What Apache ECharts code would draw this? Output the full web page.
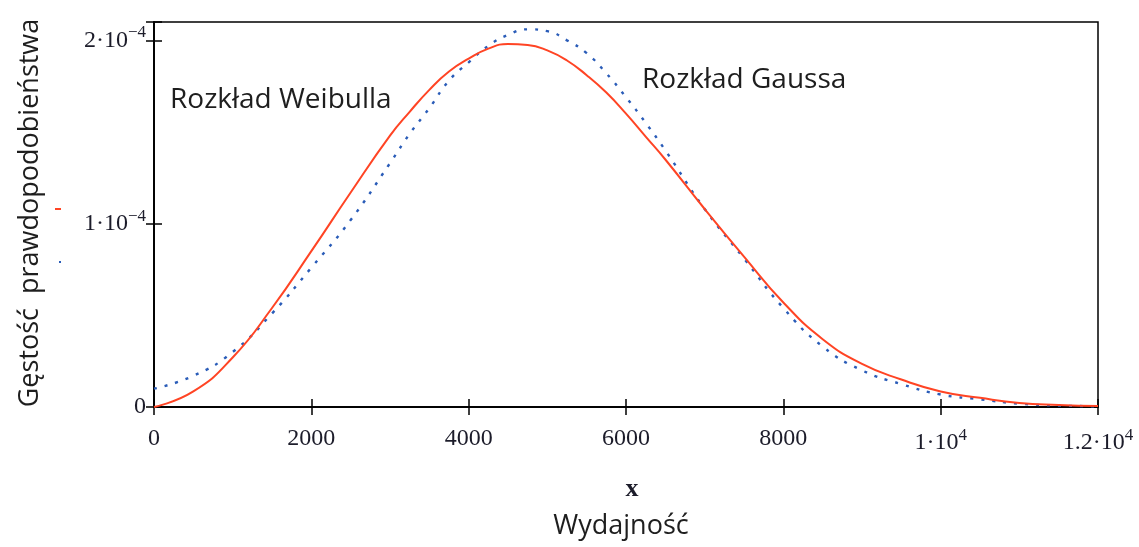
<!DOCTYPE html>
<html>
<head>
<meta charset="utf-8">
<script src="https://cdn.jsdelivr.net/npm/echarts@6/dist/echarts.min.js"></script>
<style>
  html, body { margin: 0; padding: 0; background: #fff; }
  #chart { width: 1139px; height: 547px; }
</style>
</head>
<body>
<div id="chart"></div>
<script>
// x positions (Wydajność), denser around the peaks
var xValues = [0, 500, 1000, 1500, 2000, 2500, 3000, 3250, 3500, 3750, 4000, 4250, 4500, 4750,
  5000, 5250, 5500, 5750, 6000, 6250, 6500, 7000, 7500, 8000, 8500, 9000, 9500, 10000,
  10500, 11000, 11500, 12000];

// Rozkład Weibulla (red, solid)
var weibull = [0, 0.085e-4, 0.27e-4, 0.54e-4, 0.85e-4, 1.17e-4, 1.48e-4, 1.61e-4, 1.73e-4,
  1.83e-4, 1.90e-4, 1.955e-4, 1.98e-4, 1.975e-4, 1.945e-4, 1.89e-4, 1.81e-4, 1.715e-4,
  1.60e-4, 1.475e-4, 1.35e-4, 1.08e-4, 0.82e-4, 0.57e-4, 0.37e-4, 0.235e-4, 0.15e-4,
  0.085e-4, 0.05e-4, 0.022e-4, 0.011e-4, 0.005e-4];

// Rozkład Gaussa (blue, dotted)
var gauss = [0.10e-4, 0.17e-4, 0.30e-4, 0.51e-4, 0.76e-4, 1.02e-4, 1.33e-4, 1.49e-4, 1.63e-4,
  1.78e-4, 1.88e-4, 1.97e-4, 2.03e-4, 2.06e-4, 2.05e-4, 2.00e-4, 1.93e-4, 1.82e-4, 1.69e-4,
  1.55e-4, 1.40e-4, 1.08e-4, 0.81e-4, 0.54e-4, 0.33e-4, 0.20e-4, 0.125e-4, 0.068e-4,
  0.042e-4, 0.018e-4, 0.008e-4, 0.004e-4];

var serif = '"Liberation Serif", "DejaVu Serif", serif';
var sans = '"Open Sans", "Noto Sans", sans-serif';
var labelColor = '#1c1c2a';

function yLabel(v) {
  if (v === 0) return '0';
  var m = Math.round(v / 1e-5) / 10;
  if (Math.abs(m - Math.round(m)) > 1e-6) return '';
  return '{b|' + m + '·10}{s|−4}';
}

function xLabel(v) {
  if (v < 10000) return String(v);
  return '{b|' + (v / 1e4) + '·10}{s|4}';
}

var richLabel = {
  b: { fontFamily: serif, fontSize: 24, color: labelColor, lineHeight: 32 },
  s: { fontFamily: serif, fontSize: 17, color: labelColor, verticalAlign: 'top', lineHeight: 32 }
};

function pairs(ys) {
  return xValues.map(function (x, i) { return [x, ys[i]]; });
}

var myChart = echarts.init(document.getElementById('chart'));
var option = {
  backgroundColor: '#fff',
  animation: false,
  grid: {
    left: 154, right: 41, top: 22, bottom: 140,
    show: true, borderColor: '#000', borderWidth: 1.5
  },
  xAxis: [
    {
      type: 'value', min: 0, max: 12000, interval: 2000,
      axisLine: { lineStyle: { color: '#000', width: 1.5 } },
      axisTick: { inside: true, length: 8, lineStyle: { color: '#000', width: 1.5 } },
      splitLine: { show: false },
      axisLabel: {
        margin: 20, formatter: xLabel, rich: richLabel,
        fontFamily: serif, fontSize: 24, color: labelColor
      }
    },
    {
      type: 'value', position: 'top', min: 0, max: 12000, interval: 2000,
      axisLine: { lineStyle: { color: '#000', width: 1.5 } },
      axisTick: { inside: true, length: 8, lineStyle: { color: '#000', width: 1.5 } },
      splitLine: { show: false },
      axisLabel: { show: false }
    }
  ],
  yAxis: [
    {
      type: 'value', min: 0, max: 2.1e-4, interval: 1e-4,
      axisLine: { show: true, lineStyle: { color: '#000', width: 1.5 } },
      axisTick: { show: true, inside: true, length: 8, lineStyle: { color: '#000', width: 1.5 } },
      splitLine: { show: false },
      axisLabel: {
        margin: 8, formatter: yLabel, rich: richLabel,
        fontFamily: serif, fontSize: 24, color: labelColor
      }
    },
    {
      type: 'value', position: 'right', min: 0, max: 2.1e-4, interval: 1e-4,
      axisLine: { show: true, lineStyle: { color: '#000', width: 1.5 } },
      axisTick: { show: true, inside: true, length: 8, lineStyle: { color: '#000', width: 1.5 } },
      splitLine: { show: false },
      axisLabel: { show: false }
    }
  ],
  series: [
    {
      name: 'Rozkład Weibulla',
      type: 'line',
      smooth: true,
      showSymbol: false,
      data: pairs(weibull),
      lineStyle: { color: '#ff4424', width: 2 },
      z: 3
    },
    {
      name: 'Rozkład Gaussa',
      type: 'line',
      smooth: true,
      showSymbol: false,
      data: pairs(gauss),
      lineStyle: { color: '#2a5cb8', width: 2.4, type: [3, 8] },
      z: 2
    }
  ],
  graphic: [
    {
      type: 'text', left: 170, top: 86,
      style: { text: 'Rozkład Weibulla', font: '28px ' + sans, fill: '#1e1e1e' }
    },
    {
      type: 'text', left: 642, top: 66,
      style: { text: 'Rozkład Gaussa', font: '28px ' + sans, fill: '#1e1e1e' }
    },
    {
      type: 'text', x: 632, y: 489,
      style: { text: 'x', font: 'bold 26px ' + serif, fill: labelColor, align: 'center', verticalAlign: 'middle' }
    },
    {
      type: 'text', x: 621, y: 526,
      style: { text: 'Wydajność', font: '27px ' + sans, fill: '#1e1e1e', align: 'center', verticalAlign: 'middle' }
    },
    {
      type: 'text', x: 30, y: 213, rotation: Math.PI / 2,
      style: { text: 'Gęstość  prawdopodobieństwa', font: '27px ' + sans, fill: '#1e1e1e', align: 'center', verticalAlign: 'middle' }
    },
    {
      type: 'line', shape: { x1: 55, y1: 209, x2: 61, y2: 209 },
      style: { stroke: '#ff4424', lineWidth: 2 }
    },
    {
      type: 'rect', shape: { x: 59, y: 261, width: 2, height: 2 },
      style: { fill: '#2a5cb8' }
    }
  ]
};
myChart.setOption(option);
</script>
</body>
</html>
